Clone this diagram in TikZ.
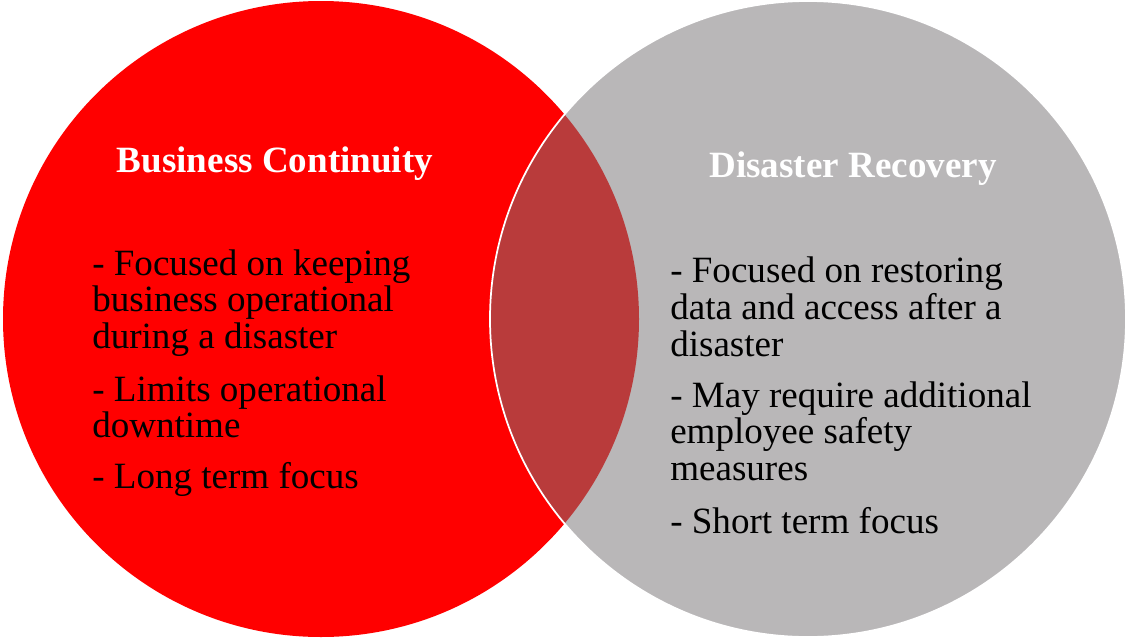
\documentclass[tikz,border=0pt]{standalone}
\usepackage{fontspec}
\setmainfont{Liberation Serif}
\definecolor{bcred}{RGB}{255,0,0}
\definecolor{drgray}{RGB}{185,183,184}
\definecolor{overlap}{RGB}{185,59,59}
\begin{document}
\begin{tikzpicture}[x=0.75pt,y=-0.75pt,
  title/.style={anchor=base,inner sep=0pt,text=white,font=\fontsize{27.8}{33}\selectfont\bfseries},
  body/.style={anchor=base west,inner sep=0pt,text=black,font=\fontsize{27.8}{33}\selectfont}]
\useasboundingbox (0,0) rectangle (1128,639);
% the two sets
\fill[bcred] (321,319) circle[radius=318];
\fill[drgray] (808,319) circle[radius=318];
% shared area
\begin{scope}
  \clip (321,319) circle[radius=318];
  \fill[overlap] (808,319) circle[radius=318];
\end{scope}
\draw[white,line width=1.3pt] (808,319) circle[radius=318];
% left set
\node[title] (bctitle) at (275,172) {Business Continuity};
\node[body] (bc1) at (92,275) {- Focused on keeping};
\node[body] (bc2) at (92,311.5) {business operational};
\node[body] (bc3) at (92,348) {during a disaster};
\node[body] (bc4) at (92,401.5) {- Limits operational};
\node[body] (bc5) at (92,437) {downtime};
\node[body] (bc6) at (92,488.5) {- Long term focus};
% right set
\node[title] (drtitle) at (853,177) {Disaster Recovery};
\node[body] (dr1) at (670,282) {- Focused on restoring};
\node[body] (dr2) at (670,319) {data and access after a};
\node[body] (dr3) at (670,356) {disaster};
\node[body] (dr4) at (670,407) {- May require additional};
\node[body] (dr5) at (670,443) {employee safety};
\node[body] (dr6) at (670,480) {measures};
\node[body] (dr7) at (670,533) {- Short term focus};
\end{tikzpicture}
\end{document}
